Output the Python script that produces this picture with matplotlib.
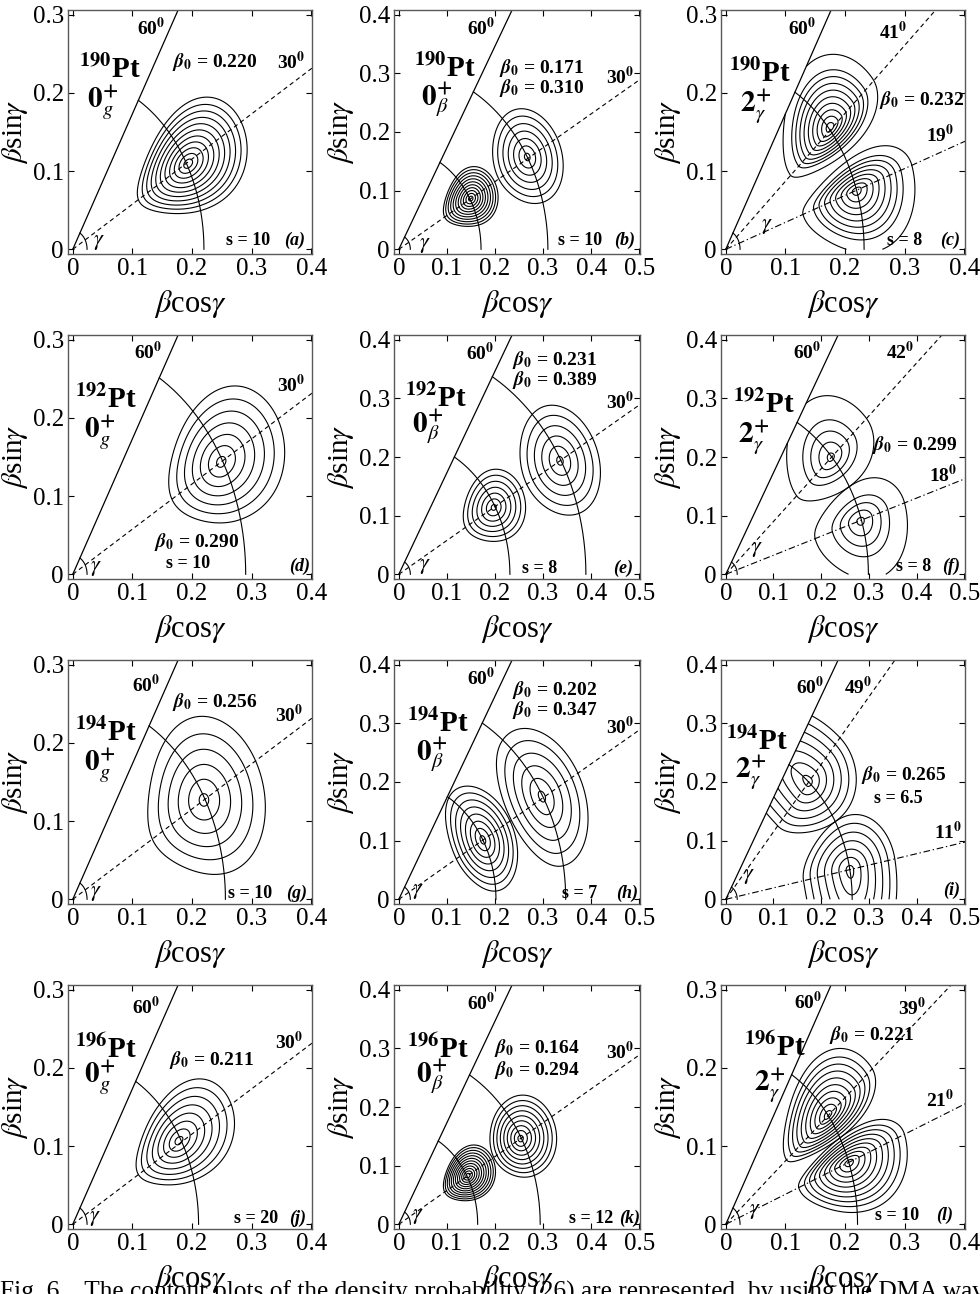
import numpy as np
import matplotlib
matplotlib.use("Agg")
import matplotlib.pyplot as plt

plt.rcParams['font.family'] = ['Liberation Serif', 'DejaVu Serif']
plt.rcParams['mathtext.fontset'] = 'stix'

# ---- panel data ----
tags = ['a', 'b', 'c', 'd', 'e', 'f', 'g', 'h', 'i', 'j', 'k', 'l']
nuclei = ['190', '190', '190', '192', '192', '192', '194', '194', '194', '196', '196', '196']
states = ['g', r'\beta', r'\gamma'] * 4
state_num = ['0', '0', '2'] * 4
x_max = [0.4, 0.5, 0.4, 0.4, 0.5, 0.5, 0.4, 0.5, 0.5, 0.4, 0.5, 0.4]
y_max = [0.3, 0.4, 0.3, 0.3, 0.4, 0.4, 0.3, 0.4, 0.4, 0.3, 0.4, 0.3]
beta0_vals = [[0.220], [0.171, 0.310], [0.232],
              [0.290], [0.231, 0.389], [0.299],
              [0.256], [0.202, 0.347], [0.265],
              [0.211], [0.164, 0.294], [0.221]]
s_vals = ['10', '10', '8', '10', '8', '8', '10', '7', '6.5', '20', '12', '10']
ray_angles = [[30], [30], [41, 19], [30], [30], [42, 18],
              [30], [30], [49, 11], [30], [30], [39, 21]]

# contour blobs (one per density maximum)
blob_panel = [0, 1, 1, 2, 2, 3, 4, 4, 5, 5, 6, 7, 7, 8, 8, 9, 10, 10, 11, 11]
blob_beta = [0.222, 0.173, 0.310, 0.234, 0.232, 0.287, 0.228, 0.387, 0.297, 0.297,
             0.254, 0.202, 0.345, 0.265, 0.265, 0.207, 0.166, 0.292, 0.221, 0.221]
blob_gamma = [29.5, 30, 30.5, 41.5, 19, 30, 30, 30, 42, 18,
              30, 30, 30.5, 49, 11, 31, 30, 30, 39, 21]
blob_d_in = [0.095, 0.063, 0.070, 0.090, 0.095, 0.095, 0.068, 0.080, 0.097, 0.100,
             0.100, 0.064, 0.075, 0.099, 0.099, 0.080, 0.056, 0.064, 0.090, 0.090]
blob_d_out = [0.104, 0.057, 0.070, 0.095, 0.098, 0.110, 0.066, 0.078, 0.100, 0.097,
              0.100, 0.065, 0.085, 0.100, 0.096, 0.100, 0.059, 0.075, 0.095, 0.100]
blob_g_lo = [16.5, 16, 15.5, 10, 20, 16, 15, 14.5, 12, 19.6,
             22.6, 26, 21, 19, 40, 15.5, 15, 13.5, 9, 17]
blob_g_hi = [16.5, 16, 15.5, 20, 10, 16, 15, 14.5, 19.6, 12,
             22.6, 29, 21, 40, 19, 15.5, 15, 13.5, 17, 9]
blob_rings = [11, 11, 7, 10, 9, 7, 7, 6, 5, 5, 6, 8, 6, 7, 7, 8, 12, 9, 10, 10]
blob_rho2 = [0.90, 0.91, 0.85, 0.80, 0.80, 0.84, 0.85, 0.82, 0.62, 0.62,
             0.80, 0.87, 0.82, 0.85, 0.85, 0.87, 0.92, 0.88, 0.88, 0.88]
rho_min = 0.08

# ---- text positions (axes fraction) ----
pt_pos = [(0.171, 0.754), (0.206, 0.761), (0.161, 0.74), (0.157, 0.734), (0.172, 0.74), (0.175, 0.713),
          (0.157, 0.70), (0.179, 0.74), (0.147, 0.665), (0.157, 0.734), (0.179, 0.734), (0.221, 0.746)]
state_pos = [(0.143, 0.624), (0.172, 0.631), (0.14, 0.607), (0.13, 0.604), (0.138, 0.624), (0.134, 0.583),
             (0.13, 0.57), (0.152, 0.611), (0.12, 0.542), (0.13, 0.624), (0.152, 0.624), (0.2, 0.59)]
deg60_pos = [(0.342, 0.925), (0.356, 0.925), (0.332, 0.925), (0.328, 0.932), (0.349, 0.925), (0.352, 0.932),
             (0.321, 0.898), (0.356, 0.925), (0.366, 0.891), (0.321, 0.911), (0.356, 0.925), (0.357, 0.93)]
ray_label_pos = [[(0.915, 0.788)], [(0.919, 0.727)], [(0.707, 0.911), (0.898, 0.488)],
                 [(0.915, 0.795)], [(0.919, 0.727)], [(0.734, 0.932), (0.911, 0.426)],
                 [(0.908, 0.775)], [(0.919, 0.727)], [(0.563, 0.891), (0.932, 0.296)],
                 [(0.908, 0.768)], [(0.919, 0.727)], [(0.783, 0.906), (0.898, 0.529)]]
b0_pos = [[(0.601, 0.788)], [(0.6, 0.761), (0.6, 0.679)], [(0.823, 0.631)],
          [(0.526, 0.153)], [(0.654, 0.898), (0.654, 0.816)], [(0.795, 0.549)],
          [(0.601, 0.829)], [(0.654, 0.877), (0.654, 0.795)], [(0.748, 0.529)],
          [(0.587, 0.693)], [(0.58, 0.74), (0.58, 0.652)], [(0.619, 0.795)]]
s_pos = [(0.738, 0.057), (0.758, 0.057), (0.754, 0.057), (0.492, 0.064), (0.593, 0.044), (0.789, 0.05),
         (0.745, 0.044), (0.756, 0.044), (0.727, 0.433), (0.772, 0.044), (0.803, 0.044), (0.72, 0.057)]
tag_pos = [(0.929, 0.057), (0.939, 0.057), (0.939, 0.057), (0.95, 0.05), (0.932, 0.044), (0.945, 0.05),
           (0.936, 0.044), (0.946, 0.044), (0.945, 0.057), (0.943, 0.044), (0.959, 0.044), (0.918, 0.057)]
gam_pos = [(0.127, 0.046), (0.125, 0.035), (0.188, 0.112), (0.116, 0.044), (0.125, 0.05), (0.147, 0.119),
           (0.116, 0.044), (0.098, 0.05), (0.113, 0.112), (0.109, 0.044), (0.098, 0.05), (0.139, 0.07)]

W, H = 980, 1294
col_left = [68, 394, 721]
col_w = [244, 246, 244]
row_top = [10, 335, 660, 985]
box_h = 244

fig = plt.figure(figsize=(W / 100, H / 100), dpi=100)

bb = np.linspace(0.001, 0.62, 700)
gg = np.linspace(0.0, 60.0, 420)
B, G = np.meshgrid(bb, gg)
X = B * np.cos(np.radians(G))
Y = B * np.sin(np.radians(G))

for p in range(12):
    r, c = divmod(p, 3)
    ax = fig.add_axes([col_left[c] / W, 1 - (row_top[r] + box_h) / H, col_w[c] / W, box_h / H])
    xm, ym = x_max[p], y_max[p]
    ax.set_xlim(-0.02 * xm, xm * 1.003)
    ax.set_ylim(-0.02 * ym, ym * 1.02)

    # contours
    for i in range(len(blob_panel)):
        if blob_panel[i] != p:
            continue
        b0, g0 = blob_beta[i], blob_gamma[i]
        u = (B - b0) / np.where(B < b0, blob_d_in[i], blob_d_out[i])
        v = (G - g0) / np.where(G < g0, blob_g_lo[i], blob_g_hi[i])
        q = u ** 2 + v ** 2
        rhos = [1.0] + list(np.linspace(blob_rho2[i], rho_min, blob_rings[i] - 1))
        ax.contour(X, Y, q, levels=np.sort(np.array(rhos) ** 2), colors='k', linewidths=0.8)

    # 60 degree line and rays
    ax.plot([0, np.cos(np.radians(60))], [0, np.sin(np.radians(60))], color='k', lw=0.9)
    styles = [(0, (4, 3)), (0, (6, 2.5, 1.2, 2.5))]
    for k, a in enumerate(ray_angles[p]):
        ax.plot([0, np.cos(np.radians(a))], [0, np.sin(np.radians(a))], color='k', lw=0.8,
                linestyle=styles[k])
    # beta0 arcs
    t = np.radians(np.linspace(0, 60, 200))
    for b0 in beta0_vals[p]:
        ax.plot(b0 * np.cos(t), b0 * np.sin(t), color='k', lw=0.8)
    # gamma arc at origin
    ax.plot(0.024 * np.cos(t), 0.024 * np.sin(t), color='k', lw=0.8)

    # texts
    tr = ax.transAxes
    ax.text(*pt_pos[p], r'$^{\mathbf{%s}}$Pt' % nuclei[p], transform=tr, ha='center', va='center',
            fontsize=21, fontweight='bold')
    ax.text(*state_pos[p], r'$\mathbf{%s}^{\mathbf{+}}_{%s}$' % (state_num[p], states[p]), transform=tr,
            ha='center', va='center', fontsize=21)
    ax.text(*deg60_pos[p], r'60$^{\mathbf{0}}$', transform=tr, ha='center', va='center',
            fontsize=14, fontweight='bold')
    for k, a in enumerate(ray_angles[p]):
        ax.text(*ray_label_pos[p][k], r'%d$^{\mathbf{0}}$' % a, transform=tr, ha='center', va='center',
                fontsize=14, fontweight='bold')
    for k, b0 in enumerate(beta0_vals[p]):
        ax.text(*b0_pos[p][k], r'$\mathbfit{\beta}_{\mathbf{0}}$ = %.3f' % b0, transform=tr, ha='center',
                va='center', fontsize=14, fontweight='bold')
    ax.text(*s_pos[p], 's = ' + s_vals[p], transform=tr, ha='center', va='center',
            fontsize=13, fontweight='bold')
    ax.text(*tag_pos[p], '(' + tags[p] + ')', transform=tr, ha='center', va='center',
            fontsize=13, fontweight='bold', fontstyle='italic')
    ax.text(*gam_pos[p], r'$\gamma$', transform=tr, ha='center', va='center', fontsize=16)

    # axes styling
    xt = np.round(np.arange(0, xm + 1e-9, 0.1), 1)
    yt = np.round(np.arange(0, ym + 1e-9, 0.1), 1)
    ax.set_xticks(xt)
    ax.set_yticks(yt)
    ax.set_xticklabels(['0'] + ['%.1f' % v for v in xt[1:]])
    ax.set_yticklabels(['0'] + ['%.1f' % v for v in yt[1:]])
    ax.tick_params(direction='in', length=4, width=0.8, labelsize=18, pad=3,
                   top=True, right=True)
    for sp in ax.spines.values():
        sp.set_color('0.35')
        sp.set_linewidth(1.0)
    ax.set_xlabel(r'$\beta$cos$\gamma$', fontsize=22)
    ax.set_ylabel(r'$\beta$sin$\gamma$', fontsize=21)
    ax.xaxis.set_label_coords(0.5, -0.14)
    ax.yaxis.set_label_coords(-0.155, 0.5)

fig.text(0.0, (H - 1281) / H, 'Fig. 6.   The contour plots of the density probability (26) are '
         'represented, by using the DMA wave functions', ha='left', va='top', fontsize=18.3)

fig.savefig('out.png', dpi=100)
